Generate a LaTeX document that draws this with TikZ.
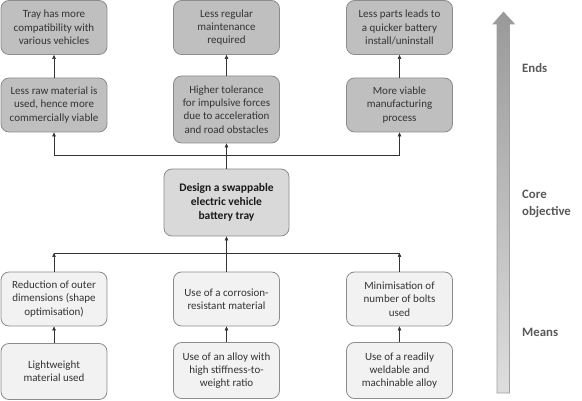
\documentclass[tikz,border=0pt]{standalone}
\usepackage{fontspec}
\setmainfont{Carlito}
\usetikzlibrary{arrows.meta}
\definecolor{txt}{HTML}{333333}
\definecolor{edge}{HTML}{8C8C8C}
\definecolor{endfill}{HTML}{BFBFBF}
\definecolor{corefill}{HTML}{D9D9D9}
\definecolor{meanfill}{HTML}{F2F2F2}
\definecolor{lbl}{HTML}{595959}
\tikzset{
  box/.style={draw=edge, line width=0.8pt, rounded corners=8pt, align=center,
    text=txt, font=\fontsize{11}{13.3}\selectfont, minimum width=106pt,
    inner sep=2pt},
  endbox/.style={box, fill=endfill},
  meanbox/.style={box, fill=meanfill},
  corebox/.style={box, fill=corefill, minimum width=125pt, minimum height=67pt,
    font=\bfseries\fontsize{11.5}{14.3}\selectfont, text=black!90},
  link/.style={draw=black!80, line width=0.6pt},
  arr/.style={link, -{Triangle[length=4pt,width=3.5pt]}},
  sidelbl/.style={anchor=west, text=lbl, font=\bfseries\fontsize{12.8}{17}\selectfont, align=left, inner sep=0pt}
}
\begin{document}
\begin{tikzpicture}[x=1pt,y=-1pt]
\useasboundingbox (0,0) rectangle (582,401);
% ends row 1
\node[endbox, minimum height=54pt] (e1) at (54,27.5) {Tray has more\\compatibility with\\various vehicles};
\node[endbox, minimum height=54pt] (e2) at (226.5,27.5) {Less regular\\maintenance\\required};
\node[endbox, minimum height=54pt] (e3) at (399.5,27.5) {Less parts leads to\\a quicker battery\\install/uninstall};
% ends row 2
\node[endbox, minimum height=54pt] (f1) at (54,105) {Less raw material is\\used, hence more\\commercially viable};
\node[endbox, minimum height=67pt] (f2) at (226.5,109.5) {Higher tolerance\\for impulsive forces\\due to acceleration\\and road obstacles};
\node[endbox, minimum height=54pt] (f3) at (399.5,105) {More viable\\manufacturing\\process};
% core
\node[corebox] (core) at (226.5,202.5) {Design a swappable\\electric vehicle\\battery tray};
% means row 1
\node[meanbox, minimum height=54pt] (m1) at (54,299) {Reduction of outer\\dimensions (shape\\optimisation)};
\node[meanbox, minimum height=54pt] (m2) at (226.5,299) {Use of a corrosion-\\resistant material};
\node[meanbox, minimum height=54pt] (m3) at (399.5,299) {Minimisation of\\number of bolts\\used};
% means row 2
\node[meanbox, minimum height=56pt] (n1) at (54,371.5) {Lightweight\\material used};
\node[meanbox, minimum height=56pt] (n2) at (226.5,370.5) {Use of an alloy with\\high stiffness-to-\\weight ratio};
\node[meanbox, minimum height=56pt] (n3) at (399.5,370.5) {Use of a readily\\weldable and\\machinable alloy};
% bus coordinates
\coordinate (bus) at (226.5,155);
\coordinate (bus2) at (226.5,253);
% upper connectors
\draw[arr] (f1.north) -- (e1.south);
\draw[arr] (f2.north) -- (e2.south);
\draw[arr] (f3.north) -- (e3.south);
\draw[arr] (core.north) -- (f2.south);
\draw[arr] (bus) -| (f1.south);
\draw[arr] (bus) -| (f3.south);
% lower connectors
\draw[arr] (n1.north) -- (m1.south);
\draw[arr] (n2.north) -- (m2.south);
\draw[arr] (n3.north) -- (m3.south);
\draw[arr] (m2.north) -- (core.south);
\draw[arr] (m1.north) -- (m1.north |- bus2);
\draw[arr] (m3.north) -- (m3.north |- bus2);
\draw[link] (m1.north |- bus2) -- (m3.north |- bus2);
% big arrow
\shade[top color=black!40, bottom color=black!13, draw=black!38, line width=0.6pt]
  (497,393) -- (497,24) -- (493,24) -- (503.5,12) -- (514.5,24) -- (509.5,24) -- (509.5,393) -- cycle;
\node[sidelbl] (ends) at (522,68) {Ends};
\node[sidelbl] (coreobj) at (522,203.5) {Core\\objective};
\node[sidelbl] (means) at (522,332) {Means};
\end{tikzpicture}
\end{document}
